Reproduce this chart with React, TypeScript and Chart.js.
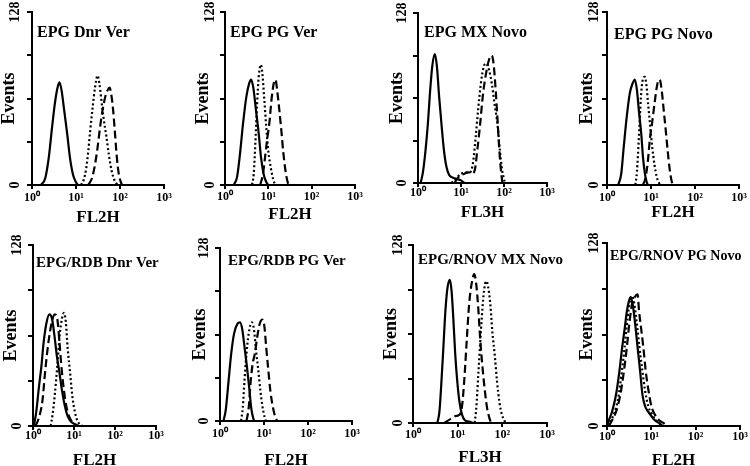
import React, { useEffect, useRef } from 'react';
import { Chart, registerables } from 'chart.js';

Chart.register(...registerables);

type Pt = [number, number];

// ---------------- DATA ----------------
const panelTitles = [
  'EPG Dnr Ver', 'EPG PG Ver', 'EPG MX Novo', 'EPG PG Novo',
  'EPG/RDB Dnr Ver', 'EPG/RDB PG Ver', 'EPG/RNOV MX Novo', 'EPG/RNOV PG Novo',
];
const xAxisTitles = ['FL2H', 'FL2H', 'FL3H', 'FL2H', 'FL2H', 'FL2H', 'FL3H', 'FL2H'];
const yAxisTitle = 'Events';
const yTickValues = [0, 32, 64, 96, 128];
const yTickLabels = ['0', '', '', '', '128'];
const xTickValues = [1, 10, 100, 1000];
const xTickLabels = ['10⁰', '10¹', '10²', '10³'];

// Panel 1: EPG Dnr Ver
const dnrVerSolid: Pt[] = [[1.6,0],[2.0,5],[2.4,20],[2.8,40],[3.3,60],[3.8,72],[4.2,76],[4.7,70],[5.4,55],[6.3,38],[7.3,20],[8.5,8],[10,2],[11,0]];
const dnrVerDotted: Pt[] = [[13,0],[15,4],[17,12],[19,25],[21,40],[24,58],[27,72],[31,81],[34,75],[38,62],[43,48],[49,36],[56,22],[65,10],[76,3],[88,0]];
const dnrVerDashed: Pt[] = [[19,0],[23,5],[27,15],[31,28],[35,42],[40,55],[46,65],[52,70],[58,72],[64,66],[70,55],[77,38],[85,20],[94,8],[105,2],[112,0]];

// Panel 2: EPG PG Ver
const pgVerSolid: Pt[] = [[1.6,0],[1.9,6],[2.2,22],[2.6,45],[3.1,65],[3.6,75],[4.0,78],[4.5,72],[5.2,55],[6.0,38],[6.8,20],[7.8,8],[9,2],[10,0]];
const pgVerDotted: Pt[] = [[4.2,0],[4.6,8],[5.0,30],[5.5,60],[6.0,80],[6.7,89],[7.3,82],[8.0,65],[9.0,42],[10,25],[11.5,12],[13,4],[14.5,0]];
const pgVerDashed: Pt[] = [[6.5,0],[7.5,8],[8.5,22],[9.5,35],[10.5,45],[12,65],[13.5,76],[14.6,78],[16,70],[18,55],[20,40],[22,25],[25,10],[28,2],[30,0]];

// Panel 3: EPG MX Novo
const mxNovoSolid: Pt[] = [[1.15,0],[1.3,8],[1.5,25],[1.7,45],[1.9,68],[2.15,88],[2.45,97],[2.75,88],[3.1,65],[3.5,45],[4.0,25],[4.6,12],[5.3,6],[6.5,4],[8,3],[10,2],[12,0]];
const mxNovoDotted: Pt[] = [[6,0],[8,4],[10,7],[13,8],[16,8],[19,15],[22,35],[25,55],[29,75],[34,88],[39,90],[45,85],[52,75],[60,60],[70,45],[80,25],[90,10],[100,3],[105,0]];
const mxNovoDashed: Pt[] = [[7,0],[9,5],[12,7],[15,8],[18,7],[21,10],[24,25],[28,45],[32,65],[38,82],[45,93],[52,96],[58,88],[64,70],[70,50],[76,30],[82,15],[88,5],[92,0]];

// Panel 4: EPG PG Novo
const pgNovoSolid: Pt[] = [[1.8,0],[2.1,8],[2.4,28],[2.8,50],[3.3,68],[3.8,75],[4.3,78],[4.8,70],[5.3,55],[6.0,38],[6.6,20],[7.3,8],[8,2],[8.5,0]];
const pgNovoDotted: Pt[] = [[4.4,0],[4.8,10],[5.3,35],[5.9,65],[6.5,78],[7.2,80],[7.8,75],[8.6,60],[9.5,45],[10.5,30],[12,15],[13.5,6],[15,2],[16,0]];
const pgNovoDashed: Pt[] = [[6.5,0],[7.5,5],[8.5,18],[9.5,35],[10.5,45],[12,60],[14,75],[15.8,78],[17.5,70],[19.5,55],[22,38],[24,25],[26.5,12],[29,4],[31,0]];

// Panel 5: EPG/RDB Dnr Ver
const rdbDnrSolid: Pt[] = [[1.05,0],[1.2,10],[1.4,28],[1.6,42],[1.8,58],[2.1,72],[2.5,79],[2.9,76],[3.3,65],[3.8,50],[4.4,38],[5.1,25],[6,14],[7,7],[8.5,3],[11,1],[13,0]];
const rdbDnrDotted: Pt[] = [[2.7,0],[3.0,8],[3.4,22],[3.9,42],[4.5,65],[5.1,76],[5.7,80],[6.3,74],[7.0,55],[8.0,38],[9.2,20],[10.5,10],[12,4],[14,1],[16,0]];
const rdbDnrDashed: Pt[] = [[1.15,0],[1.4,6],[1.7,18],[2.0,40],[2.4,60],[2.9,74],[3.4,79],[3.9,76],[4.4,60],[5.0,40],[5.7,25],[6.5,14],[7.8,6],[9.5,2],[11,0]];

// Panel 6: EPG/RDB PG Ver
const rdbPgSolid: Pt[] = [[1.2,0],[1.35,8],[1.55,28],[1.8,50],[2.1,65],[2.5,72],[2.85,73],[3.2,68],[3.6,55],[4.1,40],[4.6,25],[5.1,10],[5.6,3],[6,0]];
const rdbPgDotted: Pt[] = [[3.0,0],[3.3,10],[3.6,30],[4.0,50],[4.5,65],[5.3,73],[5.9,68],[6.6,52],[7.4,38],[8.3,22],[9.3,10],[10.3,3],[11,0]];
const rdbPgDashed: Pt[] = [[4.0,0],[4.5,10],[5.0,30],[5.5,42],[6.2,50],[7.0,62],[8.0,72],[9.2,75],[10.2,70],[11.2,55],[12.5,38],[14,22],[16,10],[18,3],[20,0]];

// Panel 7: EPG/RNOV MX Novo
const rnovMxSolid: Pt[] = [[3.5,0],[3.9,8],[4.3,28],[4.8,55],[5.3,80],[5.9,97],[6.7,103],[7.3,95],[8.0,75],[8.8,50],[9.8,30],[11,15],[12.5,6],[14.5,2],[18,1],[22,0]];
const rnovMxDotted: Pt[] = [[24,0],[26,10],[29,35],[33,65],[37,88],[41,100],[44,102],[48,98],[54,85],[60,65],[68,48],[76,30],[86,15],[98,6],[110,2],[118,0]];
const rnovMxDashed: Pt[] = [[5,0],[7,3],[9,5],[11,6],[12.5,12],[14,30],[16,60],[18,85],[20.5,100],[23.5,107],[26,100],[29,82],[32,60],[36,40],[41,22],[46,10],[52,3],[56,0]];

// Panel 8: EPG/RNOV PG Novo
const rnovPgSolid: Pt[] = [[1.0,0],[1.1,4],[1.3,10],[1.6,22],[1.9,38],[2.2,55],[2.5,68],[2.8,80],[3.1,87],[3.4,90],[3.8,85],[4.3,72],[4.9,55],[5.6,38],[6.3,22],[7.2,14],[8.5,10],[10,7],[12,4],[15,2],[18,0]];
const rnovPgDotted: Pt[] = [[1.05,0],[1.2,3],[1.5,10],[1.8,20],[2.1,35],[2.5,55],[2.9,75],[3.3,88],[3.7,91],[4.1,86],[4.7,72],[5.4,55],[6.2,40],[7.2,25],[8.5,14],[10,9],[12,5],[15,2],[19,0]];
const rnovPgDashed: Pt[] = [[1.1,0],[1.3,4],[1.6,10],[2.0,22],[2.4,38],[2.8,55],[3.2,72],[3.7,86],[4.2,90],[4.9,92],[5.3,80],[5.9,68],[6.6,55],[7.5,38],[8.6,25],[10,14],[12,8],[15,4],[19,2],[23,0]];

const solidSeries = [dnrVerSolid, pgVerSolid, mxNovoSolid, pgNovoSolid, rdbDnrSolid, rdbPgSolid, rnovMxSolid, rnovPgSolid];
const dottedSeries = [dnrVerDotted, pgVerDotted, mxNovoDotted, pgNovoDotted, rdbDnrDotted, rdbPgDotted, rnovMxDotted, rnovPgDotted];
const dashedSeries = [dnrVerDashed, pgVerDashed, mxNovoDashed, pgNovoDashed, rdbDnrDashed, rdbPgDashed, rnovMxDashed, rnovPgDashed];

// ---------------- LAYOUT ----------------
type Layout = {
  left: number; right: number; top: number; zero: number;
  evOff: number; yLabOff: number; xLabOff: number; xTitleOff: number;
  tx: number; ty: number; tSize: number; tWeight: string; padR: number;
};
const layouts: Layout[] = [
  { left: 32, right: 164, top: 12, zero: 185, evOff: 22, yLabOff: 17, xLabOff: 13, xTitleOff: 33, tx: 37, ty: 33, tSize: 16, tWeight: 'bold', padR: 16 },
  { left: 225, right: 355, top: 12, zero: 185, evOff: 21, yLabOff: 15, xLabOff: 12, xTitleOff: 30, tx: 230, ty: 33, tSize: 16, tWeight: 'bold', padR: 16 },
  { left: 418, right: 547, top: 13, zero: 183, evOff: 20, yLabOff: 16, xLabOff: 10, xTitleOff: 30, tx: 424, ty: 33, tSize: 16, tWeight: 'bold', padR: 16 },
  { left: 607, right: 739, top: 12, zero: 185, evOff: 19, yLabOff: 13, xLabOff: 13, xTitleOff: 28, tx: 614, ty: 35, tSize: 16, tWeight: 'bold', padR: 16 },
  { left: 33, right: 156, top: 245, zero: 426, evOff: 21, yLabOff: 16, xLabOff: 10, xTitleOff: 35, tx: 36, ty: 263, tSize: 15, tWeight: 'bold', padR: 16 },
  { left: 220, right: 352, top: 248, zero: 421, evOff: 19, yLabOff: 16, xLabOff: 13, xTitleOff: 40, tx: 228, ty: 261, tSize: 15, tWeight: 'bold', padR: 16 },
  { left: 413, right: 547, top: 245, zero: 423, evOff: 21, yLabOff: 15, xLabOff: 12, xTitleOff: 35, tx: 418, ty: 260, tSize: 15, tWeight: 'bold', padR: 32 },
  { left: 607, right: 740, top: 243, zero: 426, evOff: 19, yLabOff: 13, xLabOff: 11, xTitleOff: 35, tx: 610, ty: 256, tSize: 14, tWeight: 'bold', padR: 16 },
];

const FONT = "'Liberation Serif', 'Times New Roman', serif";
const PAD_T = 14;

const titlePlugin = {
  id: 'panelTitle',
  afterDraw(chart: any, _args: any, opts: any) {
    const { ctx } = chart;
    ctx.save();
    ctx.font = `${opts.weight} ${opts.size}px ${FONT}`;
    ctx.fillStyle = '#000';
    ctx.textAlign = 'left';
    ctx.textBaseline = 'middle';
    ctx.fillText(opts.text, opts.x, opts.y);
    ctx.restore();
  },
};

function Panel({ i }: { i: number }) {
  const ref = useRef<HTMLCanvasElement>(null);
  const L = layouts[i];
  const Wy = Math.round(L.evOff + 10.8);
  const Hx = Math.round(L.xTitleOff + 10.2);
  const cw = Wy + (L.right - L.left) + L.padR;
  const ch = PAD_T + (L.zero - L.top) + Hx;
  const cl = L.left - Wy;
  const ct = L.top - PAD_T;

  useEffect(() => {
    if (!ref.current) return;
    const toXY = (a: Pt[]) => a.map(([x, y]) => ({ x, y }));
    const chart = new Chart(ref.current, {
      type: 'line',
      data: {
        datasets: [
          { data: toXY(solidSeries[i]), borderColor: '#000', borderWidth: 2.2, pointRadius: 0, cubicInterpolationMode: 'monotone', fill: false },
          { data: toXY(dottedSeries[i]), borderColor: '#000', borderWidth: 2.2, borderDash: [2, 2.5], pointRadius: 0, cubicInterpolationMode: 'monotone', fill: false },
          { data: toXY(dashedSeries[i]), borderColor: '#000', borderWidth: 2.2, borderDash: [8, 4], pointRadius: 0, cubicInterpolationMode: 'monotone', fill: false },
        ],
      },
      options: {
        animation: false,
        responsive: false,
        devicePixelRatio: 1,
        layout: { padding: { left: 0, top: PAD_T, right: L.padR, bottom: 0 } },
        plugins: {
          legend: { display: false },
          tooltip: { enabled: false },
          panelTitle: { text: panelTitles[i], x: L.tx - cl, y: L.ty - ct, size: L.tSize, weight: L.tWeight },
        } as any,
        scales: {
          x: {
            type: 'logarithmic',
            min: 1,
            max: 1000,
            afterBuildTicks: (s: any) => { s.ticks = xTickValues.map((v) => ({ value: v })); },
            afterFit: (s: any) => { s.height = Hx; },
            ticks: {
              callback: (v: any) => { const k = xTickValues.indexOf(Number(v)); return k >= 0 ? xTickLabels[k] : ''; },
              autoSkip: false, maxRotation: 0, minRotation: 0,
              padding: L.xLabOff - 4 - 7.2,
              font: { family: FONT, size: 12, weight: 'bold' }, color: '#000',
            },
            grid: { drawOnChartArea: false, drawTicks: true, tickLength: 4, color: '#000', lineWidth: 2 },
            border: { display: true, color: '#000', width: 2 },
            title: { display: true, text: xAxisTitles[i], font: { family: FONT, size: 17, weight: 'bold' }, color: '#000', padding: 0 },
          },
          y: {
            type: 'linear',
            min: 0,
            max: 128,
            afterBuildTicks: (s: any) => { s.ticks = yTickValues.map((v) => ({ value: v })); },
            afterFit: (s: any) => { s.width = Wy; },
            ticks: {
              callback: (v: any) => { const k = yTickValues.indexOf(Number(v)); return k >= 0 ? yTickLabels[k] : ''; },
              autoSkip: false, minRotation: 90, maxRotation: 90, crossAlign: 'center',
              padding: L.yLabOff - 5 - 10.5,
              font: { family: FONT, size: 14, weight: 'bold' }, color: '#000',
            },
            grid: { drawOnChartArea: false, drawTicks: true, tickLength: 5, color: '#000', lineWidth: 2 },
            border: { display: true, color: '#000', width: 2 },
            title: { display: true, text: yAxisTitle, font: { family: FONT, size: 18, weight: 'bold' }, color: '#000', padding: 0 },
          },
        },
      } as any,
      plugins: [titlePlugin as any],
    });
    return () => chart.destroy();
  }, [i]);

  return (
    <canvas
      ref={ref}
      width={cw}
      height={ch}
      style={{ position: 'absolute', left: cl, top: ct, width: cw, height: ch }}
    />
  );
}

export default function App() {
  return (
    <div style={{ position: 'fixed', left: 0, top: 0, width: 750, height: 466, overflow: 'hidden', background: '#fff' }}>
      {panelTitles.map((_, i) => <Panel key={i} i={i} />)}
    </div>
  );
}
